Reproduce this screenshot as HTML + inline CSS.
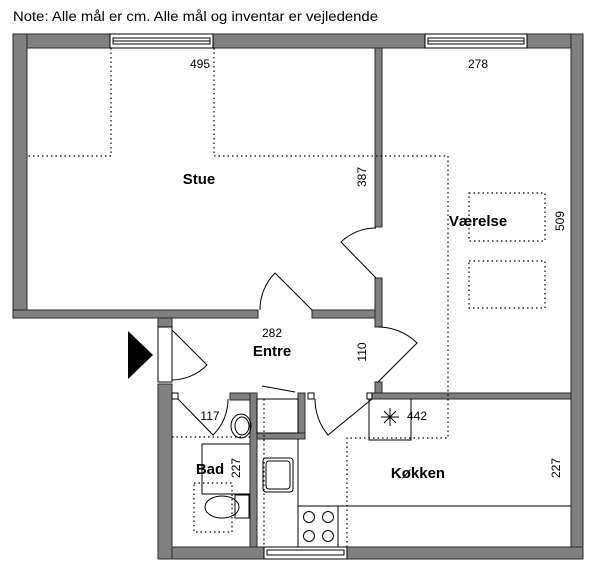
<!DOCTYPE html>
<html><head><meta charset="utf-8"><style>
html,body{margin:0;padding:0;background:#fff;}
svg{display:block;}
text{font-family:"Liberation Sans",sans-serif;fill:#000;}
.w{fill:#808080;stroke:#2a2a2a;stroke-width:1;}
.l{fill:none;stroke:#000;stroke-width:1;}
.d{fill:none;stroke:#000;stroke-width:1.2;stroke-dasharray:1.5 3;}
.win{fill:#fff;stroke:#000;stroke-width:1;}
</style></head><body>
<svg width="600" height="576" viewBox="0 0 600 576" xmlns="http://www.w3.org/2000/svg">
<text x="13" y="21" font-size="14" textLength="365" lengthAdjust="spacingAndGlyphs">Note: Alle mål er cm. Alle mål og inventar er vejledende</text>

<rect class="w" x="13" y="34" width="570" height="14"/>
<rect class="w" x="13" y="34" width="14" height="284"/>
<rect class="w" x="571" y="34" width="12" height="525"/>
<rect class="w" x="158" y="547" width="425" height="12"/>
<rect class="w" x="158" y="384" width="14" height="175"/>
<rect class="w" x="158" y="310" width="14" height="17"/>
<rect class="w" x="13" y="310" width="245" height="8"/>
<rect class="w" x="312" y="310" width="70" height="8"/>
<rect class="w" x="375" y="48" width="7" height="179"/>
<rect class="w" x="375" y="278" width="7" height="49"/>
<rect class="w" x="375" y="382" width="7" height="14"/>
<rect class="w" x="372" y="393" width="199" height="6"/>
<rect class="w" x="230" y="393" width="27" height="7"/>
<rect class="w" x="250" y="393" width="7" height="154"/>
<rect class="w" x="298" y="393" width="7" height="46"/>
<rect class="w" x="257" y="433" width="48" height="6"/>
<rect class="l" x="257" y="399" width="41" height="34"/>
<rect class="win" x="172" y="393" width="6" height="6"/>
<rect class="win" x="308" y="393" width="6" height="6"/>
<rect class="win" x="367" y="393" width="5" height="6"/>

<rect class="win" x="110" y="34" width="103" height="14"/>
<rect class="l" x="113" y="38" width="97" height="6"/>
<line class="l" x1="113" y1="41" x2="210" y2="41"/>
<rect class="win" x="425" y="34" width="102" height="14"/>
<rect class="l" x="428" y="38" width="96" height="6"/>
<line class="l" x1="428" y1="41" x2="524" y2="41"/>
<rect class="win" x="264" y="547" width="83" height="12"/>
<rect class="l" x="267" y="550" width="77" height="5"/>

<rect class="win" x="158" y="327" width="14" height="55"/>
<polygon points="128,331 153,355 128,379" fill="#000"/>
<path class="l" d="M172,330 L207,365 A50,50 0 0 1 172,380"/>

<path class="l" d="M312,310 L275,273 A52,52 0 0 0 260,310"/>
<path class="l" d="M376,278 L341,242 A50,50 0 0 1 376,228"/>
<path class="l" d="M378,382 L417,343 A55,55 0 0 0 378,327"/>
<path class="l" d="M372,399 L328,435 A57,57 0 0 1 315,399"/>
<path class="l" d="M178,399 L213,435 A50,50 0 0 0 228,399"/>
<line class="l" x1="262" y1="386" x2="295" y2="392"/>

<path class="d" d="M111,48 V156 H27"/>
<path class="d" d="M214,48 V156 H448 V438 H347 V547"/>
<rect class="d" x="469" y="193" width="76" height="48"/>
<rect class="d" x="469" y="261" width="76" height="47"/>
<line class="d" x1="172" y1="437" x2="250" y2="437"/>
<rect class="d" x="194" y="483" width="38" height="49"/>
<line class="d" x1="264" y1="399" x2="264" y2="547"/>

<ellipse class="l" cx="241" cy="426" rx="10" ry="12"/>
<ellipse class="l" cx="242" cy="426" rx="7" ry="9"/>
<path class="l" d="M250,444 H202 V494 H250"/>
<ellipse class="l" cx="222" cy="507" rx="17" ry="11" fill="#fff"/>
<rect class="l" x="235" y="495" width="14" height="23" fill="#fff"/>

<rect class="l" x="263" y="458" width="30" height="34" rx="3"/>
<rect class="l" x="266" y="461" width="24" height="28" rx="3"/>
<line class="l" x1="298" y1="439" x2="298" y2="547"/>
<line class="l" x1="298" y1="506" x2="571" y2="506"/>
<rect class="l" x="298" y="506" width="40" height="41"/>
<circle class="l" cx="309" cy="517" r="5.5"/><circle class="l" cx="328" cy="517" r="5.5"/>
<circle class="l" cx="309" cy="536" r="5.5"/><circle class="l" cx="328" cy="536" r="5.5"/>
<path class="l" d="M369,399 V440 H411 V399"/>
<path class="l" d="M381,417 H399 M390,408 V426 M384,411 L396,423 M396,411 L384,423"/>

<text x="200" y="68" font-size="12" text-anchor="middle">495</text>
<text x="478" y="68" font-size="12" text-anchor="middle">278</text>
<text x="199" y="184" font-size="15" font-weight="bold" text-anchor="middle">Stue</text>
<text transform="translate(366,177) rotate(-90)" font-size="12" text-anchor="middle">387</text>
<text x="478" y="226" font-size="15" font-weight="bold" text-anchor="middle">Værelse</text>
<text transform="translate(564,221) rotate(-90)" font-size="12" text-anchor="middle">509</text>
<text x="272" y="337" font-size="12" text-anchor="middle">282</text>
<text x="272" y="356" font-size="15" font-weight="bold" text-anchor="middle">Entre</text>
<text transform="translate(366,352) rotate(-90)" font-size="12" text-anchor="middle">110</text>
<text x="210" y="420" font-size="12" text-anchor="middle">117</text>
<text x="417" y="420" font-size="12" text-anchor="middle">442</text>
<text x="210" y="474" font-size="15" font-weight="bold" text-anchor="middle">Bad</text>
<text transform="translate(240,468) rotate(-90)" font-size="12" text-anchor="middle">227</text>
<text x="418" y="478" font-size="15" font-weight="bold" text-anchor="middle">Køkken</text>
<text transform="translate(560,468) rotate(-90)" font-size="12" text-anchor="middle">227</text>
</svg>
</body></html>
